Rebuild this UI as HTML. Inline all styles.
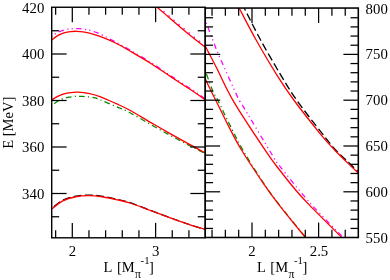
<!DOCTYPE html>
<html><head><meta charset="utf-8"><title>plot</title>
<style>
html,body{margin:0;padding:0;background:#fff;}
body{width:390px;height:280px;overflow:hidden;font-family:"Liberation Serif",serif;}
svg{display:block;will-change:transform;opacity:0.999;}
text{font-family:"Liberation Serif",serif;fill:#000;}
</style></head><body>
<svg width="390" height="280" viewBox="0 0 390 280">
<defs>
<clipPath id="cl"><rect x="51.7" y="7.25" width="153.55" height="230.55"/></clipPath>
<clipPath id="cr"><rect x="205.25" y="8.05" width="153.05" height="229.45"/></clipPath>
</defs>
<rect x="0" y="0" width="390" height="280" fill="#fff"/>
<path d="M52.00,208.20 C53.72,206.92 58.53,202.47 62.30,200.50 C66.07,198.53 70.15,197.32 74.60,196.40 C79.05,195.48 84.22,195.00 89.00,195.00 C93.78,195.00 98.52,195.67 103.30,196.40 C108.08,197.13 113.25,198.37 117.70,199.40 C122.15,200.43 124.53,200.78 130.00,202.60 C135.47,204.42 143.67,207.73 150.50,210.30 C157.33,212.87 164.17,215.50 171.00,218.00 C177.83,220.50 185.83,223.40 191.50,225.30 C197.17,227.20 202.75,228.72 205.00,229.40" fill="none" stroke="#000" stroke-width="1.25" stroke-dasharray="7.8 3.5" stroke-dashoffset="8.93" clip-path="url(#cl)"/>
<path d="M52.00,208.80 C53.72,207.52 58.53,203.07 62.30,201.10 C66.07,199.13 70.15,197.92 74.60,197.00 C79.05,196.08 84.22,195.60 89.00,195.60 C93.78,195.60 98.52,196.28 103.30,197.00 C108.08,197.72 113.25,198.90 117.70,199.90 C122.15,200.90 124.53,201.23 130.00,203.00 C135.47,204.77 143.67,207.98 150.50,210.50 C157.33,213.02 164.17,215.63 171.00,218.10 C177.83,220.57 185.83,223.42 191.50,225.30 C197.17,227.18 202.75,228.72 205.00,229.40" fill="none" stroke="#ff0000" stroke-width="1.3" clip-path="url(#cl)"/>
<path d="M52.00,106.00 C52.52,105.52 53.93,104.02 55.10,103.10 C56.27,102.18 57.72,101.22 59.00,100.50 C60.28,99.78 61.10,99.37 62.80,98.80 C64.50,98.23 66.95,97.50 69.20,97.10 C71.45,96.70 74.15,96.52 76.30,96.40 C78.45,96.28 79.97,96.32 82.10,96.40 C84.23,96.48 86.97,96.65 89.10,96.90 C91.23,97.15 93.40,97.55 94.90,97.90 C96.40,98.25 96.70,98.45 98.10,99.00 C99.50,99.55 100.38,99.98 103.30,101.20 C106.22,102.42 111.15,104.38 115.60,106.30 C120.05,108.22 124.18,109.68 130.00,112.70 C135.82,115.72 143.67,120.55 150.50,124.40 C157.33,128.25 164.50,132.27 171.00,135.80 C177.50,139.33 183.83,142.65 189.50,145.60 C195.17,148.55 202.42,152.18 205.00,153.50" fill="none" stroke="#008b00" stroke-width="1.25" stroke-dasharray="5.6 3.2 1.2 3.2" stroke-dashoffset="9.95" clip-path="url(#cl)"/>
<path d="M51.90,99.90 C52.87,99.32 55.67,97.42 57.70,96.40 C59.73,95.38 61.97,94.43 64.10,93.80 C66.23,93.17 68.25,92.87 70.50,92.60 C72.75,92.33 74.60,92.08 77.60,92.20 C80.60,92.32 84.77,92.57 88.50,93.30 C92.23,94.03 95.48,94.92 100.00,96.60 C104.52,98.28 110.60,101.12 115.60,103.40 C120.60,105.68 124.18,107.13 130.00,110.30 C135.82,113.47 143.67,118.43 150.50,122.40 C157.33,126.37 164.50,130.43 171.00,134.10 C177.50,137.77 183.83,141.30 189.50,144.40 C195.17,147.50 202.42,151.32 205.00,152.70" fill="none" stroke="#ff0000" stroke-width="1.3" clip-path="url(#cl)"/>
<path d="M52.00,36.50 C52.63,36.00 54.22,34.43 55.80,33.50 C57.38,32.57 59.47,31.62 61.50,30.90 C63.53,30.18 66.12,29.57 68.00,29.20 C69.88,28.83 71.00,28.78 72.80,28.70 C74.60,28.62 76.62,28.55 78.80,28.70 C80.98,28.85 83.97,29.30 85.90,29.60 C87.83,29.90 88.68,30.03 90.40,30.50 C92.12,30.97 94.05,31.55 96.20,32.40 C98.35,33.25 100.07,34.00 103.30,35.60 C106.53,37.20 111.15,39.60 115.60,42.00 C120.05,44.40 124.18,46.63 130.00,50.00 C135.82,53.37 143.67,57.88 150.50,62.20 C157.33,66.52 164.17,71.38 171.00,75.90 C177.83,80.42 185.83,85.52 191.50,89.30 C197.17,93.08 202.75,97.05 205.00,98.60" fill="none" stroke="#ff00ff" stroke-width="1.25" stroke-dasharray="5.2 3.5 1.2 3.2 1.2 3.5" stroke-dashoffset="9.42" clip-path="url(#cl)"/>
<path d="M52.00,39.90 C52.95,39.18 55.68,36.77 57.70,35.60 C59.72,34.43 61.97,33.57 64.10,32.90 C66.23,32.23 68.37,31.87 70.50,31.60 C72.63,31.33 73.90,31.10 76.90,31.30 C79.90,31.50 84.65,31.95 88.50,32.80 C92.35,33.65 95.48,34.70 100.00,36.40 C104.52,38.10 110.60,40.57 115.60,43.00 C120.60,45.43 124.18,47.63 130.00,51.00 C135.82,54.37 143.67,58.88 150.50,63.20 C157.33,67.52 164.17,72.38 171.00,76.90 C177.83,81.42 185.83,86.52 191.50,90.30 C197.17,94.08 202.75,98.05 205.00,99.60" fill="none" stroke="#ff0000" stroke-width="1.3" clip-path="url(#cl)"/>
<path d="M158.45,6.85 C160.17,8.33 165.03,12.55 168.75,15.75 C172.47,18.95 176.67,22.62 180.75,26.05 C184.83,29.48 189.05,32.97 193.25,36.35 C197.45,39.73 203.83,44.68 205.95,46.35" fill="none" stroke="#ff00ff" stroke-width="1.3" stroke-dasharray="1.6 5" clip-path="url(#cl)"/>
<path d="M157.70,7.70 C159.42,9.18 164.28,13.40 168.00,16.60 C171.72,19.80 175.92,23.47 180.00,26.90 C184.08,30.33 188.30,33.82 192.50,37.20 C196.70,40.58 203.08,45.53 205.20,47.20" fill="none" stroke="#ff0000" stroke-width="1.3" clip-path="url(#cl)"/>
<path d="M205.40,71.50 C205.62,72.03 205.50,71.52 206.70,74.70 C207.90,77.88 210.65,86.13 212.60,90.60 C214.55,95.07 215.63,96.00 218.40,101.50 C221.17,107.00 225.10,115.47 229.20,123.60 C233.30,131.73 237.12,140.17 243.00,150.30 C248.88,160.43 258.47,175.35 264.50,184.40 C270.53,193.45 272.37,195.80 279.20,204.60 C286.03,213.40 301.12,231.77 305.50,237.20" fill="none" stroke="#008b00" stroke-width="1.25" stroke-dasharray="5.6 3.2 1.2 3.2" stroke-dashoffset="10.33" clip-path="url(#cr)"/>
<path d="M205.20,78.60 C206.10,80.50 208.37,85.43 210.60,90.00 C212.83,94.57 215.73,100.23 218.60,106.00 C221.47,111.77 223.98,117.27 227.80,124.60 C231.62,131.93 235.43,140.00 241.50,150.00 C247.57,160.00 257.95,175.47 264.20,184.60 C270.45,193.73 272.15,196.00 279.00,204.80 C285.85,213.60 300.72,231.73 305.30,237.40 C309.88,243.07 306.30,238.57 306.50,238.80" fill="none" stroke="#ff0000" stroke-width="1.3" clip-path="url(#cr)"/>
<path d="M206.20,22.60 C208.25,27.90 213.03,41.50 218.50,54.40 C223.97,67.30 235.08,91.65 239.00,100.00 C242.92,108.35 236.42,95.27 242.00,104.50 C247.58,113.73 266.17,145.08 272.50,155.40 C278.83,165.72 273.70,158.43 280.00,166.40 C286.30,174.37 299.93,191.53 310.30,203.20 C320.67,214.87 336.88,230.87 342.20,236.40" fill="none" stroke="#ff00ff" stroke-width="1.25" stroke-dasharray="5.2 3.5 1.2 3.2 1.2 3.5" stroke-dashoffset="12.89" clip-path="url(#cr)"/>
<path d="M204.80,45.00 C205.42,46.23 206.57,48.65 208.50,52.40 C210.43,56.15 212.10,59.12 216.40,67.50 C220.70,75.88 225.95,88.58 234.30,102.70 C242.65,116.82 258.88,140.90 266.50,152.20 C274.12,163.50 275.00,164.03 280.00,170.50 C285.00,176.97 291.55,185.18 296.50,191.00 C301.45,196.82 302.20,197.70 309.70,205.40 C317.20,213.10 336.20,231.90 341.50,237.20" fill="none" stroke="#ff0000" stroke-width="1.3" clip-path="url(#cr)"/>
<path d="M244.30,8.20 C247.02,13.50 254.57,28.93 260.60,40.00 C266.63,51.07 274.43,64.50 280.50,74.60 C286.57,84.70 290.13,90.88 297.00,100.60 C303.87,110.32 315.30,124.72 321.70,132.90 C328.10,141.08 331.02,144.87 335.40,149.70 C339.78,154.53 344.13,158.18 348.00,161.90 C351.87,165.62 356.83,170.32 358.60,172.00" fill="none" stroke="#000" stroke-width="1.3" stroke-dasharray="7.8 3.5" stroke-dashoffset="5.18" clip-path="url(#cr)"/>
<path d="M239.30,8.30 C242.08,13.55 249.78,28.75 256.00,39.80 C262.22,50.85 270.30,64.57 276.60,74.60 C282.90,84.63 286.42,90.00 293.80,100.00 C301.18,110.00 314.10,126.27 320.90,134.60 C327.70,142.93 330.20,145.33 334.60,150.00 C339.00,154.67 343.38,158.80 347.30,162.60 C351.22,166.40 355.98,170.80 358.10,172.80 C360.22,174.80 359.68,174.30 360.00,174.60" fill="none" stroke="#ff0000" stroke-width="1.3" clip-path="url(#cr)"/>
<g shape-rendering="auto">
<line x1="55.64" y1="7.25" x2="55.64" y2="14.75" stroke="#000" stroke-width="1.25"/>
<line x1="55.64" y1="237.80" x2="55.64" y2="230.30" stroke="#000" stroke-width="1.25"/>
<line x1="72.30" y1="7.25" x2="72.30" y2="22.15" stroke="#000" stroke-width="1.25"/>
<line x1="72.30" y1="237.80" x2="72.30" y2="222.90" stroke="#000" stroke-width="1.25"/>
<line x1="88.96" y1="7.25" x2="88.96" y2="14.75" stroke="#000" stroke-width="1.25"/>
<line x1="88.96" y1="237.80" x2="88.96" y2="230.30" stroke="#000" stroke-width="1.25"/>
<line x1="105.62" y1="7.25" x2="105.62" y2="14.75" stroke="#000" stroke-width="1.25"/>
<line x1="105.62" y1="237.80" x2="105.62" y2="230.30" stroke="#000" stroke-width="1.25"/>
<line x1="122.28" y1="7.25" x2="122.28" y2="14.75" stroke="#000" stroke-width="1.25"/>
<line x1="122.28" y1="237.80" x2="122.28" y2="230.30" stroke="#000" stroke-width="1.25"/>
<line x1="138.94" y1="7.25" x2="138.94" y2="14.75" stroke="#000" stroke-width="1.25"/>
<line x1="138.94" y1="237.80" x2="138.94" y2="230.30" stroke="#000" stroke-width="1.25"/>
<line x1="155.60" y1="7.25" x2="155.60" y2="22.15" stroke="#000" stroke-width="1.25"/>
<line x1="155.60" y1="237.80" x2="155.60" y2="222.90" stroke="#000" stroke-width="1.25"/>
<line x1="172.26" y1="7.25" x2="172.26" y2="14.75" stroke="#000" stroke-width="1.25"/>
<line x1="172.26" y1="237.80" x2="172.26" y2="230.30" stroke="#000" stroke-width="1.25"/>
<line x1="188.92" y1="7.25" x2="188.92" y2="14.75" stroke="#000" stroke-width="1.25"/>
<line x1="188.92" y1="237.80" x2="188.92" y2="230.30" stroke="#000" stroke-width="1.25"/>
<line x1="51.70" y1="30.75" x2="59.20" y2="30.75" stroke="#000" stroke-width="1.25"/>
<line x1="205.25" y1="30.75" x2="197.75" y2="30.75" stroke="#000" stroke-width="1.25"/>
<line x1="51.70" y1="54.00" x2="66.60" y2="54.00" stroke="#000" stroke-width="1.25"/>
<line x1="205.25" y1="54.00" x2="190.35" y2="54.00" stroke="#000" stroke-width="1.25"/>
<line x1="51.70" y1="77.25" x2="59.20" y2="77.25" stroke="#000" stroke-width="1.25"/>
<line x1="205.25" y1="77.25" x2="197.75" y2="77.25" stroke="#000" stroke-width="1.25"/>
<line x1="51.70" y1="100.50" x2="66.60" y2="100.50" stroke="#000" stroke-width="1.25"/>
<line x1="205.25" y1="100.50" x2="190.35" y2="100.50" stroke="#000" stroke-width="1.25"/>
<line x1="51.70" y1="123.75" x2="59.20" y2="123.75" stroke="#000" stroke-width="1.25"/>
<line x1="205.25" y1="123.75" x2="197.75" y2="123.75" stroke="#000" stroke-width="1.25"/>
<line x1="51.70" y1="147.00" x2="66.60" y2="147.00" stroke="#000" stroke-width="1.25"/>
<line x1="205.25" y1="147.00" x2="190.35" y2="147.00" stroke="#000" stroke-width="1.25"/>
<line x1="51.70" y1="170.25" x2="59.20" y2="170.25" stroke="#000" stroke-width="1.25"/>
<line x1="205.25" y1="170.25" x2="197.75" y2="170.25" stroke="#000" stroke-width="1.25"/>
<line x1="51.70" y1="193.50" x2="66.60" y2="193.50" stroke="#000" stroke-width="1.25"/>
<line x1="205.25" y1="193.50" x2="190.35" y2="193.50" stroke="#000" stroke-width="1.25"/>
<line x1="51.70" y1="216.75" x2="59.20" y2="216.75" stroke="#000" stroke-width="1.25"/>
<line x1="205.25" y1="216.75" x2="197.75" y2="216.75" stroke="#000" stroke-width="1.25"/>
<line x1="212.04" y1="8.05" x2="212.04" y2="15.85" stroke="#000" stroke-width="1.25"/>
<line x1="212.04" y1="237.50" x2="212.04" y2="229.70" stroke="#000" stroke-width="1.25"/>
<line x1="225.36" y1="8.05" x2="225.36" y2="15.85" stroke="#000" stroke-width="1.25"/>
<line x1="225.36" y1="237.50" x2="225.36" y2="229.70" stroke="#000" stroke-width="1.25"/>
<line x1="238.68" y1="8.05" x2="238.68" y2="15.85" stroke="#000" stroke-width="1.25"/>
<line x1="238.68" y1="237.50" x2="238.68" y2="229.70" stroke="#000" stroke-width="1.25"/>
<line x1="252.00" y1="8.05" x2="252.00" y2="22.95" stroke="#000" stroke-width="1.25"/>
<line x1="252.00" y1="237.50" x2="252.00" y2="222.60" stroke="#000" stroke-width="1.25"/>
<line x1="265.32" y1="8.05" x2="265.32" y2="15.85" stroke="#000" stroke-width="1.25"/>
<line x1="265.32" y1="237.50" x2="265.32" y2="229.70" stroke="#000" stroke-width="1.25"/>
<line x1="278.64" y1="8.05" x2="278.64" y2="15.85" stroke="#000" stroke-width="1.25"/>
<line x1="278.64" y1="237.50" x2="278.64" y2="229.70" stroke="#000" stroke-width="1.25"/>
<line x1="291.96" y1="8.05" x2="291.96" y2="15.85" stroke="#000" stroke-width="1.25"/>
<line x1="291.96" y1="237.50" x2="291.96" y2="229.70" stroke="#000" stroke-width="1.25"/>
<line x1="305.28" y1="8.05" x2="305.28" y2="15.85" stroke="#000" stroke-width="1.25"/>
<line x1="305.28" y1="237.50" x2="305.28" y2="229.70" stroke="#000" stroke-width="1.25"/>
<line x1="318.60" y1="8.05" x2="318.60" y2="22.95" stroke="#000" stroke-width="1.25"/>
<line x1="318.60" y1="237.50" x2="318.60" y2="222.60" stroke="#000" stroke-width="1.25"/>
<line x1="331.92" y1="8.05" x2="331.92" y2="15.85" stroke="#000" stroke-width="1.25"/>
<line x1="331.92" y1="237.50" x2="331.92" y2="229.70" stroke="#000" stroke-width="1.25"/>
<line x1="345.24" y1="8.05" x2="345.24" y2="15.85" stroke="#000" stroke-width="1.25"/>
<line x1="345.24" y1="237.50" x2="345.24" y2="229.70" stroke="#000" stroke-width="1.25"/>
<line x1="205.25" y1="17.74" x2="213.05" y2="17.74" stroke="#000" stroke-width="1.25"/>
<line x1="358.30" y1="17.74" x2="350.50" y2="17.74" stroke="#000" stroke-width="1.25"/>
<line x1="205.25" y1="26.90" x2="213.05" y2="26.90" stroke="#000" stroke-width="1.25"/>
<line x1="358.30" y1="26.90" x2="350.50" y2="26.90" stroke="#000" stroke-width="1.25"/>
<line x1="205.25" y1="36.06" x2="213.05" y2="36.06" stroke="#000" stroke-width="1.25"/>
<line x1="358.30" y1="36.06" x2="350.50" y2="36.06" stroke="#000" stroke-width="1.25"/>
<line x1="205.25" y1="45.22" x2="213.05" y2="45.22" stroke="#000" stroke-width="1.25"/>
<line x1="358.30" y1="45.22" x2="350.50" y2="45.22" stroke="#000" stroke-width="1.25"/>
<line x1="205.25" y1="54.38" x2="220.15" y2="54.38" stroke="#000" stroke-width="1.25"/>
<line x1="358.30" y1="54.38" x2="343.40" y2="54.38" stroke="#000" stroke-width="1.25"/>
<line x1="205.25" y1="63.55" x2="213.05" y2="63.55" stroke="#000" stroke-width="1.25"/>
<line x1="358.30" y1="63.55" x2="350.50" y2="63.55" stroke="#000" stroke-width="1.25"/>
<line x1="205.25" y1="72.71" x2="213.05" y2="72.71" stroke="#000" stroke-width="1.25"/>
<line x1="358.30" y1="72.71" x2="350.50" y2="72.71" stroke="#000" stroke-width="1.25"/>
<line x1="205.25" y1="81.87" x2="213.05" y2="81.87" stroke="#000" stroke-width="1.25"/>
<line x1="358.30" y1="81.87" x2="350.50" y2="81.87" stroke="#000" stroke-width="1.25"/>
<line x1="205.25" y1="91.03" x2="213.05" y2="91.03" stroke="#000" stroke-width="1.25"/>
<line x1="358.30" y1="91.03" x2="350.50" y2="91.03" stroke="#000" stroke-width="1.25"/>
<line x1="205.25" y1="100.19" x2="220.15" y2="100.19" stroke="#000" stroke-width="1.25"/>
<line x1="358.30" y1="100.19" x2="343.40" y2="100.19" stroke="#000" stroke-width="1.25"/>
<line x1="205.25" y1="109.35" x2="213.05" y2="109.35" stroke="#000" stroke-width="1.25"/>
<line x1="358.30" y1="109.35" x2="350.50" y2="109.35" stroke="#000" stroke-width="1.25"/>
<line x1="205.25" y1="118.51" x2="213.05" y2="118.51" stroke="#000" stroke-width="1.25"/>
<line x1="358.30" y1="118.51" x2="350.50" y2="118.51" stroke="#000" stroke-width="1.25"/>
<line x1="205.25" y1="127.67" x2="213.05" y2="127.67" stroke="#000" stroke-width="1.25"/>
<line x1="358.30" y1="127.67" x2="350.50" y2="127.67" stroke="#000" stroke-width="1.25"/>
<line x1="205.25" y1="136.83" x2="213.05" y2="136.83" stroke="#000" stroke-width="1.25"/>
<line x1="358.30" y1="136.83" x2="350.50" y2="136.83" stroke="#000" stroke-width="1.25"/>
<line x1="205.25" y1="146.00" x2="220.15" y2="146.00" stroke="#000" stroke-width="1.25"/>
<line x1="358.30" y1="146.00" x2="343.40" y2="146.00" stroke="#000" stroke-width="1.25"/>
<line x1="205.25" y1="155.16" x2="213.05" y2="155.16" stroke="#000" stroke-width="1.25"/>
<line x1="358.30" y1="155.16" x2="350.50" y2="155.16" stroke="#000" stroke-width="1.25"/>
<line x1="205.25" y1="164.32" x2="213.05" y2="164.32" stroke="#000" stroke-width="1.25"/>
<line x1="358.30" y1="164.32" x2="350.50" y2="164.32" stroke="#000" stroke-width="1.25"/>
<line x1="205.25" y1="173.48" x2="213.05" y2="173.48" stroke="#000" stroke-width="1.25"/>
<line x1="358.30" y1="173.48" x2="350.50" y2="173.48" stroke="#000" stroke-width="1.25"/>
<line x1="205.25" y1="182.64" x2="213.05" y2="182.64" stroke="#000" stroke-width="1.25"/>
<line x1="358.30" y1="182.64" x2="350.50" y2="182.64" stroke="#000" stroke-width="1.25"/>
<line x1="205.25" y1="191.80" x2="220.15" y2="191.80" stroke="#000" stroke-width="1.25"/>
<line x1="358.30" y1="191.80" x2="343.40" y2="191.80" stroke="#000" stroke-width="1.25"/>
<line x1="205.25" y1="200.96" x2="213.05" y2="200.96" stroke="#000" stroke-width="1.25"/>
<line x1="358.30" y1="200.96" x2="350.50" y2="200.96" stroke="#000" stroke-width="1.25"/>
<line x1="205.25" y1="210.12" x2="213.05" y2="210.12" stroke="#000" stroke-width="1.25"/>
<line x1="358.30" y1="210.12" x2="350.50" y2="210.12" stroke="#000" stroke-width="1.25"/>
<line x1="205.25" y1="219.28" x2="213.05" y2="219.28" stroke="#000" stroke-width="1.25"/>
<line x1="358.30" y1="219.28" x2="350.50" y2="219.28" stroke="#000" stroke-width="1.25"/>
<line x1="205.25" y1="228.44" x2="213.05" y2="228.44" stroke="#000" stroke-width="1.25"/>
<line x1="358.30" y1="228.44" x2="350.50" y2="228.44" stroke="#000" stroke-width="1.25"/>
<rect x="51.7" y="7.25" width="153.55" height="230.55" fill="none" stroke="#000" stroke-width="1.4"/>
<rect x="205.25" y="8.05" width="153.05" height="229.45" fill="none" stroke="#000" stroke-width="1.55"/>
</g>
<text transform="translate(44.30,12.80) scale(1,1.035)" font-size="14.8" text-anchor="end" >420</text>
<text transform="translate(44.30,59.20) scale(1,1.035)" font-size="14.8" text-anchor="end" >400</text>
<text transform="translate(44.30,105.70) scale(1,1.035)" font-size="14.8" text-anchor="end" >380</text>
<text transform="translate(44.30,152.20) scale(1,1.035)" font-size="14.8" text-anchor="end" >360</text>
<text transform="translate(44.30,198.70) scale(1,1.035)" font-size="14.8" text-anchor="end" >340</text>
<text transform="translate(365.60,13.50) scale(1,1.035)" font-size="14.8" text-anchor="start" >800</text>
<text transform="translate(365.60,59.42) scale(1,1.035)" font-size="14.8" text-anchor="start" >750</text>
<text transform="translate(365.60,105.35) scale(1,1.035)" font-size="14.8" text-anchor="start" >700</text>
<text transform="translate(365.60,151.28) scale(1,1.035)" font-size="14.8" text-anchor="start" >650</text>
<text transform="translate(365.60,197.20) scale(1,1.035)" font-size="14.8" text-anchor="start" >600</text>
<text transform="translate(365.60,243.12) scale(1,1.035)" font-size="14.8" text-anchor="start" >550</text>
<text transform="translate(72.40,255.90) scale(1,1.035)" font-size="14.8" text-anchor="middle" >2</text>
<text transform="translate(155.60,255.90) scale(1,1.035)" font-size="14.8" text-anchor="middle" >3</text>
<text transform="translate(252.00,255.90) scale(1,1.035)" font-size="14.8" text-anchor="middle" >2</text>
<text transform="translate(319.00,255.90) scale(1,1.035)" font-size="14.8" text-anchor="middle" >2.5</text>
<text x="103.60" y="271.80" font-size="14.5">L</text>
<text x="116.90" y="271.80" font-size="14.5">[M</text>
<text x="135.00" y="277.80" font-size="11.8">π</text>
<text x="140.60" y="263.50" font-size="10.8">-1</text>
<text x="149.10" y="271.80" font-size="14.5">]</text>
<text x="257.00" y="271.80" font-size="14.5">L</text>
<text x="270.30" y="271.80" font-size="14.5">[M</text>
<text x="288.40" y="277.80" font-size="11.8">π</text>
<text x="294.00" y="263.50" font-size="10.8">-1</text>
<text x="302.50" y="271.80" font-size="14.5">]</text>
<text transform="translate(12.9,148.7) rotate(-90) scale(1,0.94)" font-size="14.5">E [MeV]</text>
</svg>
</body></html>
